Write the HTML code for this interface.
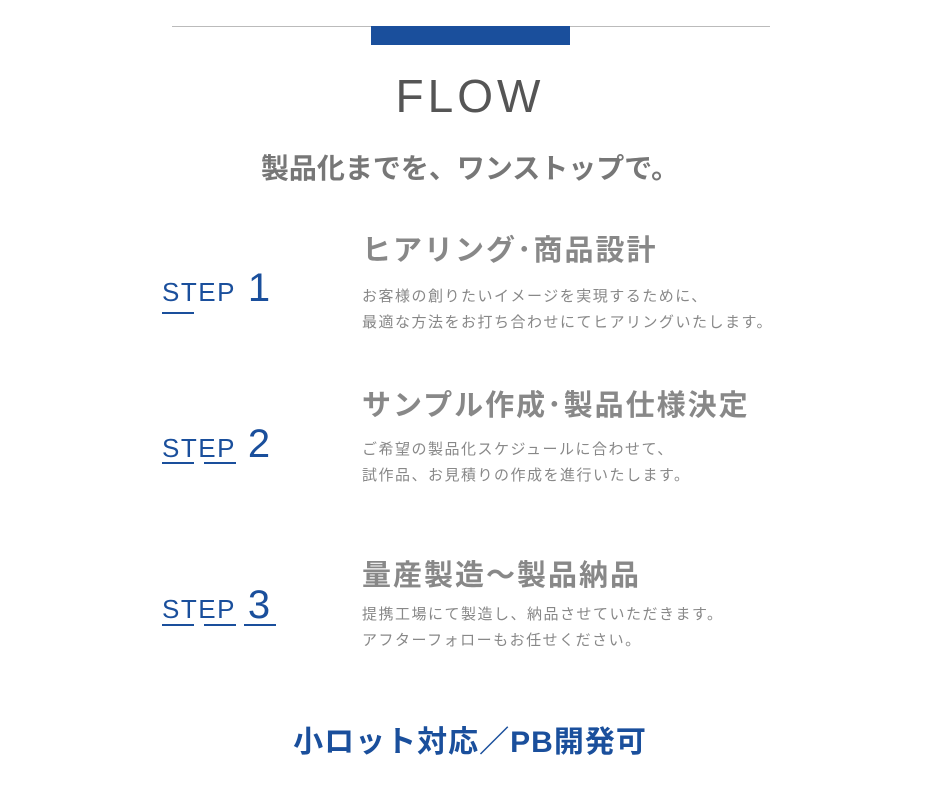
<!DOCTYPE html>
<html><head><meta charset="utf-8"><style>
body{margin:0;width:940px;height:788px;background:#fff;position:relative;overflow:hidden;font-family:"Liberation Sans","Noto Sans CJK JP",sans-serif}
.a{position:absolute;white-space:nowrap}
.step{color:#1a4f9c;font-size:26px;letter-spacing:1.5px;line-height:1}
.step b{font-weight:400;font-size:40px;margin-left:12px}
.ul{position:absolute;height:2px;background:#1a4f9c;width:32px}
.h{color:#888;font-size:29px;font-weight:bold;line-height:1;letter-spacing:2px}
.d{color:#888;font-size:15px;line-height:26px;letter-spacing:1.5px}
</style></head><body>
<div class="a" style="left:172px;top:26px;width:598px;height:1px;background:#bbb"></div>
<div class="a" style="left:371px;top:26px;width:199px;height:19px;background:#1a4f9c"></div>
<div class="a" style="left:0;width:940px;text-align:center;top:69px;font-size:46px;color:#555;letter-spacing:4px;font-weight:300">FLOW</div>
<div class="a" style="left:0;width:940px;text-align:center;top:147px;font-size:28px;color:#777;font-weight:bold;letter-spacing:0px">製品化までを、ワンストップで。</div>

<div class="a step" style="left:162px;top:268px">STEP<b>1</b></div>
<div class="ul" style="left:162px;top:312px"></div>
<div class="a h" style="left:362px;top:237px">ヒアリング･商品設計</div>
<div class="a d" style="left:362px;top:284px">お客様の創りたいイメージを実現するために、<br>最適な方法をお打ち合わせにてヒアリングいたします。</div>

<div class="a step" style="left:162px;top:424px">STEP<b>2</b></div>
<div class="ul" style="left:162px;top:462px"></div><div class="ul" style="left:204px;top:462px"></div>
<div class="a h" style="left:362px;top:392px">サンプル作成･製品仕様決定</div>
<div class="a d" style="left:362px;top:437px">ご希望の製品化スケジュールに合わせて、<br>試作品、お見積りの作成を進行いたします。</div>

<div class="a step" style="left:162px;top:585px">STEP<b>3</b></div>
<div class="ul" style="left:162px;top:624px"></div><div class="ul" style="left:204px;top:624px"></div><div class="ul" style="left:244px;top:624px"></div>
<div class="a h" style="left:362px;top:562px">量産製造～製品納品</div>
<div class="a d" style="left:362px;top:602px">提携工場にて製造し、納品させていただきます。<br>アフターフォローもお任せください。</div>

<div class="a" style="left:0;width:940px;text-align:center;top:717px;font-size:30px;color:#1a4f9c;font-weight:bold;letter-spacing:1px">小ロット対応／PB開発可</div>
</body></html>
